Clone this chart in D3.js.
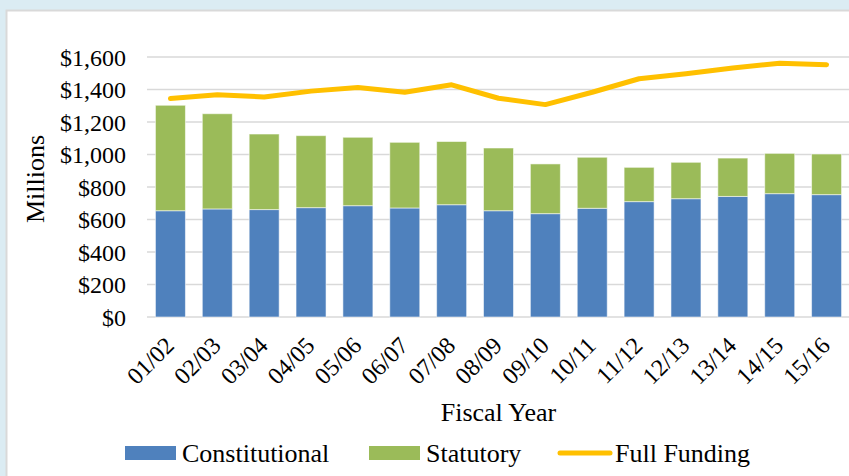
<!DOCTYPE html>
<html>
<head>
<meta charset="utf-8">
<script src="https://cdn.jsdelivr.net/npm/d3@7"></script>
<style>
    body { margin: 0; background: #dbecf3; overflow: hidden; }
    svg { display: block; }
    text { font-family: "Liberation Serif", "Times New Roman", serif; fill: #000; }
</style>
</head>
<body>
<div id="chart"></div>
<script>
var years = ['01/02', '02/03', '03/04', '04/05', '05/06', '06/07', '07/08', '08/09',
    '09/10', '10/11', '11/12', '12/13', '13/14', '14/15', '15/16'];
var constitutional = [654, 665, 661, 673, 685, 671, 691, 654, 636, 669, 710, 728, 742, 759, 753];
var statutory = [649, 586, 465, 443, 421, 404, 389, 386, 306, 314, 211, 224, 236, 248, 250];
var fullFunding = [1344, 1368, 1354, 1390, 1412, 1383, 1429, 1346, 1307, 1383, 1466, 1497, 1532, 1562, 1553];
var yTicks = [0, 200, 400, 600, 800, 1000, 1200, 1400, 1600];

var colors = { Constitutional: '#4f81bd', Statutory: '#9bbb59', 'Full Funding': '#ffc000' };

var width = 849, height = 476;
var plot = { left: 147, right: 850, top: 57, bottom: 317 };

var svg = d3.select('#chart').append('svg')
    .attr('width', width)
    .attr('height', height);

// white chart panel with a thin border
svg.append('rect')
    .attr('x', 6.5).attr('y', 10.5)
    .attr('width', width + 20).attr('height', height + 20)
    .attr('fill', '#fff')
    .attr('stroke', '#d9d9d9')
    .attr('stroke-width', 2);

var x = d3.scaleBand()
    .domain(years)
    .range([plot.left, plot.right])
    .paddingInner(0.36)
    .paddingOuter(0.18);

var y = d3.scaleLinear()
    .domain([0, 1600])
    .range([plot.bottom, plot.top]);

// gridlines
svg.append('g')
    .selectAll('line')
    .data(yTicks)
    .enter()
    .append('line')
    .attr('x1', plot.left)
    .attr('x2', plot.right)
    .attr('y1', function(d) { return y(d); })
    .attr('y2', function(d) { return y(d); })
    .attr('stroke', '#d9d9d9')
    .attr('stroke-width', 1.5);

// y axis labels
var yAxis = d3.axisLeft(y)
    .tickValues(yTicks)
    .tickSize(0)
    .tickPadding(0)
    .tickFormat(function(d) { return '$' + d3.format(',')(d); });

var yg = svg.append('g')
    .attr('transform', 'translate(126,0)')
    .call(yAxis);
yg.select('.domain').remove();
yg.selectAll('text')
    .attr('font-size', 24)
    .attr('font-family', '"Liberation Serif", serif')
    .attr('dy', '0.34em');

// stacked bars
var rows = years.map(function(d, i) {
    return { year: d, Constitutional: constitutional[i], Statutory: statutory[i] };
});
var stack = d3.stack().keys(['Constitutional', 'Statutory'])(rows);

svg.append('g')
    .selectAll('g')
    .data(stack)
    .enter()
    .append('g')
    .attr('fill', function(d) { return colors[d.key]; })
    .selectAll('rect')
    .data(function(d) { return d; })
    .enter()
    .append('rect')
    .attr('x', function(d) { return x(d.data.year); })
    .attr('y', function(d) { return y(d[1]); })
    .attr('width', x.bandwidth())
    .attr('height', function(d) { return y(d[0]) - y(d[1]); })
    .attr('stroke', 'rgba(255,255,255,0.55)')
    .attr('stroke-width', 1);

// full funding line
var line = d3.line()
    .x(function(d, i) { return x(years[i]) + x.bandwidth() / 2; })
    .y(function(d) { return y(d); });

svg.append('path')
    .datum(fullFunding)
    .attr('d', line)
    .attr('fill', 'none')
    .attr('stroke', colors['Full Funding'])
    .attr('stroke-width', 5)
    .attr('stroke-linecap', 'round')
    .attr('stroke-linejoin', 'round');

// x axis labels (rotated)
svg.append('g')
    .selectAll('text')
    .data(years)
    .enter()
    .append('text')
    .attr('transform', function(d) {
        return 'translate(' + (x(d) + x.bandwidth() / 2 + 5) + ',' + 347 + ') rotate(-45)';
    })
    .attr('text-anchor', 'end')
    .attr('font-size', 24)
    .text(function(d) { return d; });

// axis titles
svg.append('text')
    .attr('x', (plot.left + plot.right) / 2)
    .attr('y', 421)
    .attr('text-anchor', 'middle')
    .attr('font-size', 26)
    .text('Fiscal Year');

svg.append('text')
    .attr('transform', 'translate(44,179) rotate(-90)')
    .attr('text-anchor', 'middle')
    .attr('font-size', 26)
    .text('Millions');

// legend
var legendItems = [
    { name: 'Constitutional', x: 125, type: 'rect' },
    { name: 'Statutory', x: 369, type: 'rect' },
    { name: 'Full Funding', x: 558, type: 'line' }
];

var legend = svg.append('g')
    .selectAll('g')
    .data(legendItems)
    .enter()
    .append('g')
    .attr('transform', function(d) { return 'translate(' + d.x + ',0)'; });

legend.filter(function(d) { return d.type === 'rect'; })
    .append('rect')
    .attr('x', 0).attr('y', 446)
    .attr('width', 51).attr('height', 14)
    .attr('fill', function(d) { return colors[d.name]; });

legend.filter(function(d) { return d.type === 'line'; })
    .append('line')
    .attr('x1', 2).attr('x2', 52)
    .attr('y1', 453).attr('y2', 453)
    .attr('stroke', function(d) { return colors[d.name]; })
    .attr('stroke-width', 5)
    .attr('stroke-linecap', 'round');

legend.append('text')
    .attr('x', 57)
    .attr('y', 462)
    .attr('font-size', 26)
    .text(function(d) { return d.name; });
</script>
</body>
</html>
